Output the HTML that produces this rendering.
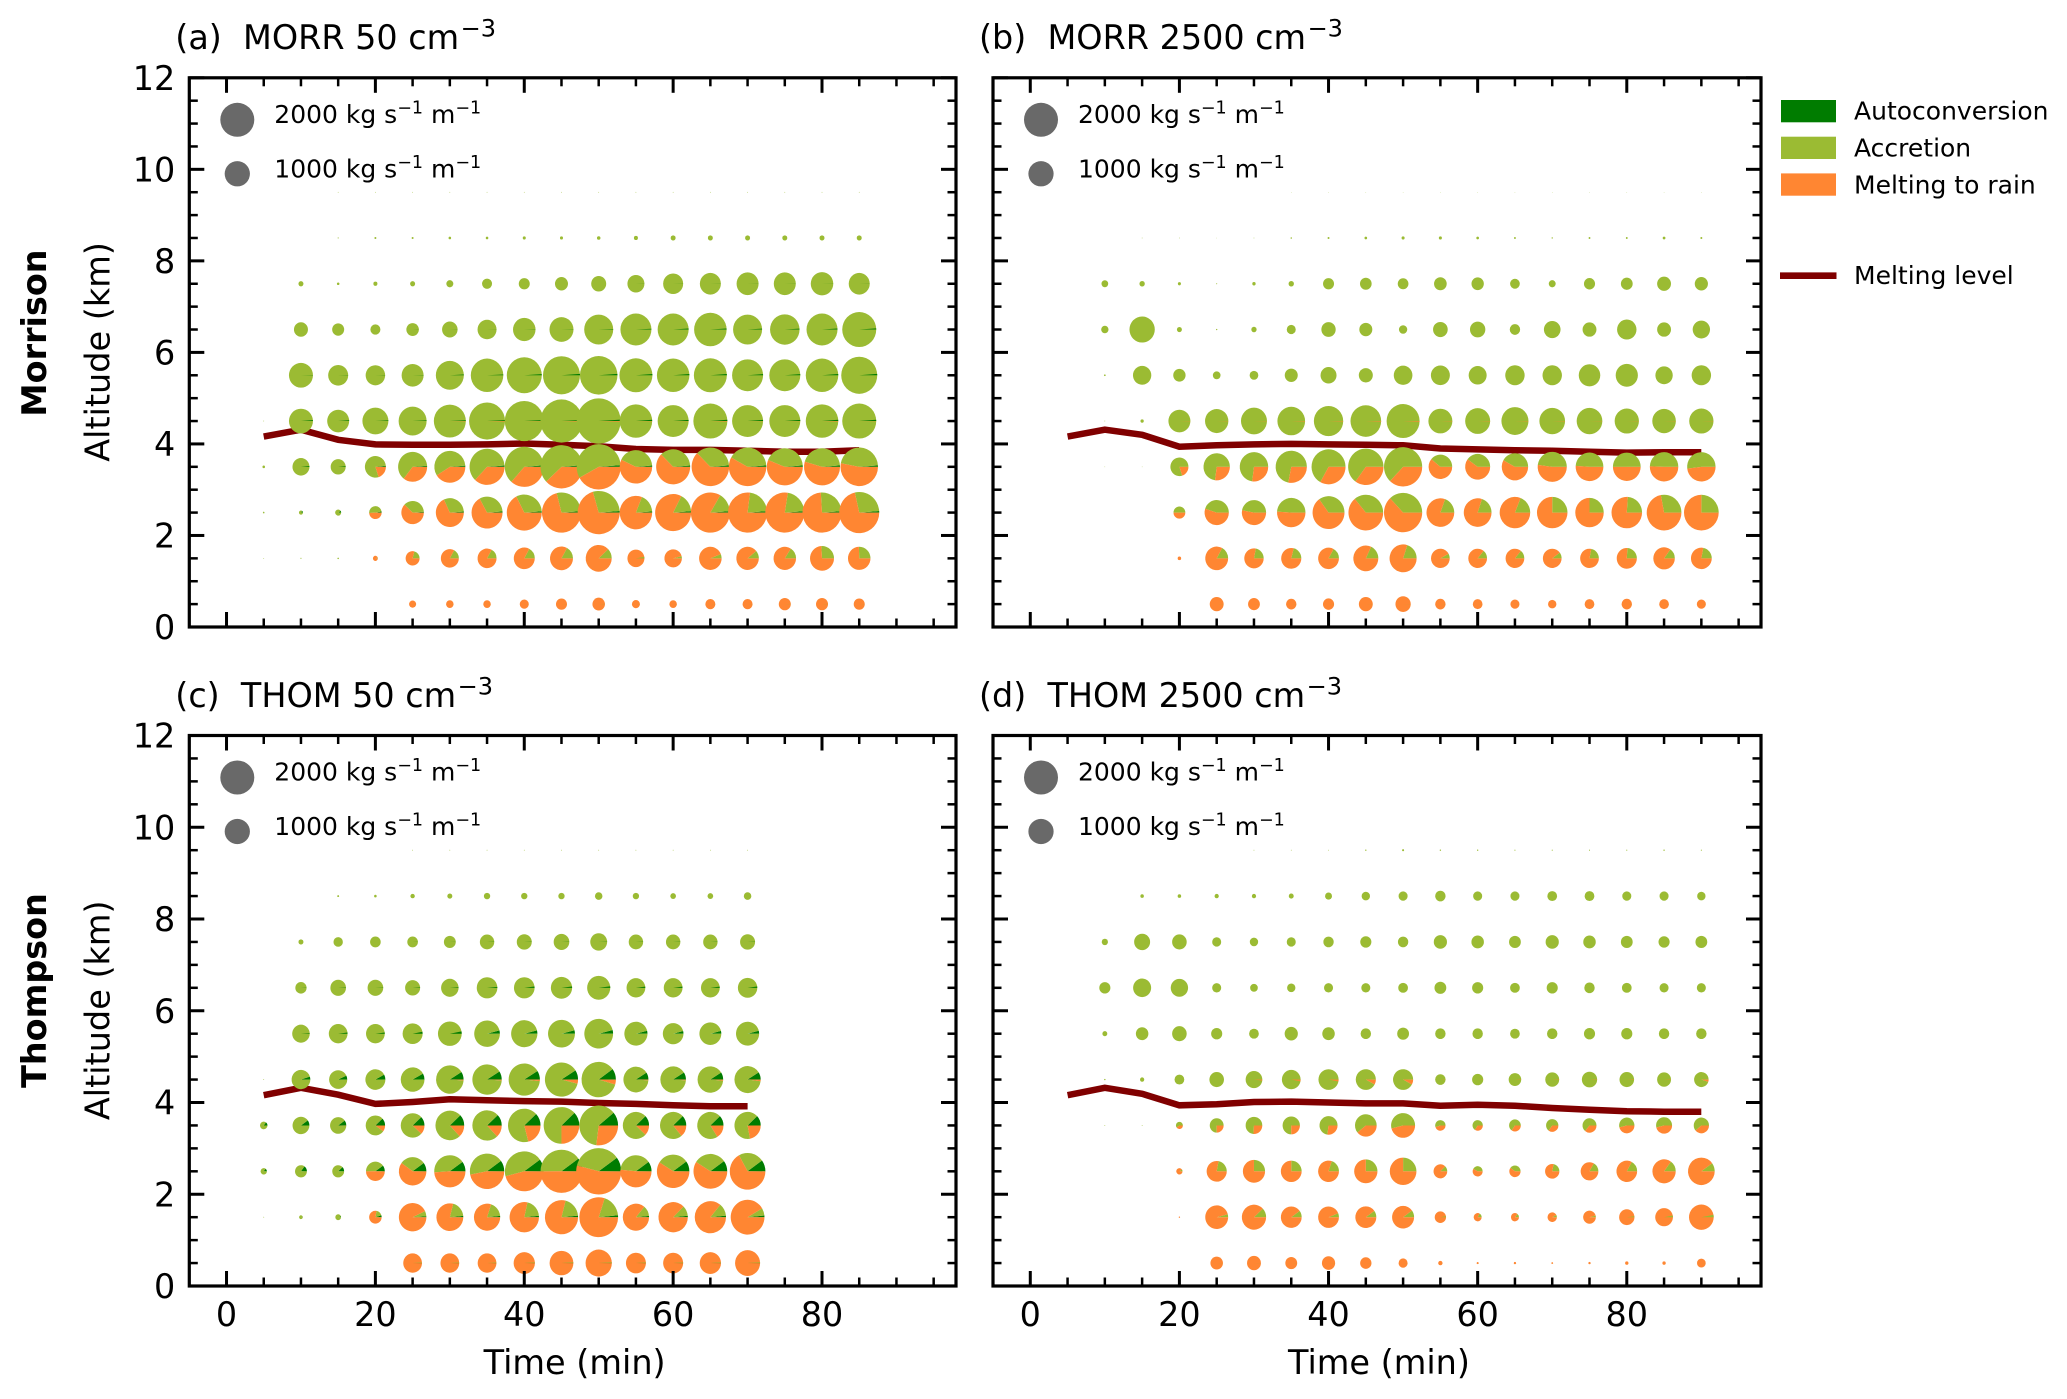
<!DOCTYPE html>
<html>
<head>
<meta charset="utf-8">
<title>Rain mass source pies</title>
<style>
html,body{margin:0;padding:0;background:#fff;}
svg{display:block;font-family:"DejaVu Sans","Liberation Sans",sans-serif;}
</style>
</head>
<body>
<svg id="chart" xmlns="http://www.w3.org/2000/svg" width="2067" height="1399" viewBox="0 0 2067 1399">
<rect width="2067" height="1399" fill="#fff"/>
<text transform="translate(46,333) rotate(-90)" text-anchor="middle" font-size="33.4" font-weight="bold">Morrison</text>
<text transform="translate(46,990.5) rotate(-90)" text-anchor="middle" font-size="33.4" font-weight="bold">Thompson</text>
<g>
<rect x="1781" y="100" width="55" height="22.3" fill="#007c00"/>
<text x="1854" y="119.5" font-size="25">Autoconversion</text>
<rect x="1781" y="136.7" width="55" height="22.3" fill="#9bbb33"/>
<text x="1854" y="156.5" font-size="25">Accretion</text>
<rect x="1781" y="173.4" width="55" height="22.3" fill="#ff8632"/>
<text x="1854" y="193.3" font-size="25">Melting to rain</text>
<line x1="1780" x2="1836.5" y1="275.7" y2="275.7" stroke="#800000" stroke-width="6.7"/>
<text x="1854" y="284" font-size="25">Melting level</text>
</g>
</svg>
<script>
const timesMin = [5,10,15,20,25,30,35,40,45,50,55,60,65,70,75,80,85,90];
const altitudesKm = [0.5,1.5,2.5,3.5,4.5,5.5,6.5,7.5,8.5,9.5];
const xTickLabels = [0,20,40,60,80];
const yTickLabels = [0,2,4,6,8,10,12];
const xMinorTicks = [5,10,15,25,30,35,45,50,55,65,70,75,85,90,95];
const yMinorTicks = [0.5,1,1.5,2.5,3,3.5,4.5,5,5.5,6.5,7,7.5,8.5,9,9.5,10.5,11,11.5];
const sizeKeyValues = [2000,1000];

/* Total rate, kg s-1 m-1; rows run from 0.5 km upward, columns from 5 min */
const morr50Rate = [
[0,0,0,0,85,97,97,140,209,270,111,97,173,173,249,249,209],
[1,2,4,43,339,561,625,763,915,1169,500,530,876,876,876,996,876],
[4,28,62,270,876,1356,1662,2119,2631,3052,1827,2242,2631,2631,2631,2631,2768],
[11,500,389,763,1455,1662,2119,2631,3052,3349,1827,2000,2433,2433,2242,2242,2433],
[1,996,837,1169,1356,1771,2242,2631,3052,3349,1827,1662,2000,1662,1662,1827,2000],
[0,996,692,658,837,1356,1827,2119,2368,2433,1884,1827,1884,1662,1662,1827,2242],
[0,339,249,173,270,416,625,876,996,1455,1662,1662,1827,1455,1506,1662,2000],
[0,43,11,28,43,85,173,209,292,389,500,692,763,837,837,876,763],
[0,0,2,7,7,11,11,16,16,21,28,43,43,43,43,43,43],
[0,0,1,1,1,1,1,1,1,1,1,1,1,1,1,1,1]
];
const morr50Melt = [
[0,0,0,0,.995,.995,.995,.995,.995,.995,.995,.995,.995,.995,.995,.995,.995],
[0,0,0,.95,.79,.83,.83,.83,.83,.88,.97,.96,.94,.89,.84,.74,.745],
[0,0,0,.49,.62,.68,.67,.675,.71,.705,.81,.825,.835,.77,.775,.74,.715],
[0,0,0,.2,.355,.41,.37,.365,.38,.42,.57,.625,.625,.58,.56,.545,.53],
[0,0,0,0,0,.003,.005,.003,.005,.005,.003,.002,.005,.002,.002,.005,.002]
];
const morr50Auto = [
[0,0,0,0,0,0,0,0,0,0,0,0,0,0,0,0,0],
[0,0,0,.01,.001,.001,.001,.001,.001,.001,.001,.001,.001,.001,.001,.001,.001],
[.1,.15,.1,.03,.012,.012,.012,.012,.012,.012,.012,.012,.012,.012,.012,.012,.012],
[0,.015,.015,.015,.012,.012,.012,.012,.012,.012,.012,.012,.012,.012,.012,.012,.012],
[0,.012,.012,.008,.008,.008,.008,.008,.008,.01,.012,.012,.012,.012,.012,.012,.012],
[0,.004,.004,.004,.004,.008,.008,.01,.012,.012,.012,.012,.012,.012,.012,.012,.012],
[0,0,0,0,.002,.002,.002,.004,.004,.006,.008,.01,.01,.01,.01,.01,.01],
[0,0,0,0,0,0,0,0,0,0,.002,.002,.002,.002,.002,.002,.002],
[0,0,0,0,0,0,0,0,0,0,0,0,0,0,0,0,0],
[0,0,0,0,0,0,0,0,0,0,0,0,0,0,0,0,0]
];
const morr50Level = [4.16,4.31,4.09,3.99,3.98,3.98,3.99,4.01,3.98,3.95,3.89,3.87,3.87,3.85,3.83,3.83,3.86];

const morr2500Rate = [
[0,0,0,0,333,241,187,213,333,403,187,163,141,120,163,187,163,141],
[0,0,0,21,907,653,701,750,1080,1267,607,607,607,607,607,701,801,750],
[0,0,0,241,1020,1020,1400,1763,2083,2520,1333,1333,1613,1613,1400,1613,2083,2083],
[0,.5,.5,563,1203,1400,1687,2000,2167,2520,963,1080,1203,1469,1333,1333,1400,1400],
[0,1,19,837,942,1169,1324,1488,1627,1884,996,1081,1267,1140,1140,1020,963,1020],
[0,5,581,263,102,130,292,443,339,603,624,560,653,653,801,853,521,653],
[0,93,1110,43,3,49,140,355,292,120,372,407,187,480,333,653,333,521],
[0,78,49,16,2,19,49,209,235,197,277,263,163,83,213,241,333,301],
[0,0,1,1,.5,1,4,7,12,16,16,12,6,3,6,6,13,7],
[0,0,0,0,0,0,.5,.5,.5,.5,.5,.5,.5,.5,.5,.5,.5,.5]
];
const morr2500Melt = [
[0,0,0,0,.998,.998,.998,.998,.998,.998,.998,.998,.998,.998,.998,.998,.998,.998],
[0,0,0,1,.83,.78,.79,.83,.82,.8,.92,.86,.86,.9,.78,.76,.85,.78],
[0,0,0,.5,.55,.53,.51,.65,.64,.63,.805,.8,.81,.75,.75,.76,.72,.75],
[0,0,0,.2,.27,.27,.28,.33,.35,.37,.61,.6,.58,.52,.51,.5,.505,.48],
[0,0,0,.002,.003,.003,.005,.005,.006,.006,.004,.004,.004,.004,.002,.002,.002,.002]
];
const morr2500Auto = [
[0,0,0,0,0,0,0,0,0,0,0,0,0,0,0,0,0,0],
[0,0,0,0,0,0,0,0,0,0,0,0,0,0,0,0,0,0],
[0,0,0,0,.001,.001,.001,.001,.001,.001,.001,.001,.001,.001,.001,.001,.001,.001],
[0,0,0,0,.001,.001,.001,.001,.001,.001,.001,.001,.001,.001,.001,.001,.001,.001],
[0,0,0,0,.001,.001,.001,.001,.001,.001,.001,.001,.001,.001,.001,.001,.001,.001],
[0,0,0,0,0,0,0,0,0,0,0,0,0,0,0,0,0,0],
[0,0,0,0,0,0,0,0,0,0,0,0,0,0,0,0,0,0],
[0,0,0,0,0,0,0,0,0,0,0,0,0,0,0,0,0,0],
[0,0,0,0,0,0,0,0,0,0,0,0,0,0,0,0,0,0],
[0,0,0,0,0,0,0,0,0,0,0,0,0,0,0,0,0,0]
];
const morr2500Level = [4.16,4.31,4.2,3.94,3.97,3.99,4,3.99,3.98,3.97,3.9,3.88,3.86,3.85,3.83,3.81,3.82,3.82];

const thom50Rate = [
[0,0,0,0,608,608,608,781,976,1192,692,692,781,1082],
[1,24,55,270,1309,1250,1192,1493,1899,2598,1192,1493,1690,1971],
[68,244,244,608,1309,1690,2045,2598,3034,3504,1690,1828,1971,2196],
[97,493,457,650,976,1430,1493,1828,2196,2598,1192,1192,1192,1192],
[1,608,568,692,976,1309,1493,1690,1899,2045,1082,1136,1136,1192],
[0,530,608,608,692,976,1136,1192,1250,1430,925,736,828,925],
[0,219,422,422,389,530,736,736,781,925,608,608,608,650],
[0,43,152,195,195,244,358,389,422,493,358,358,358,389],
[0,0,6,11,33,43,68,68,68,97,68,55,55,97],
[0,0,0,0,1,1,1,1,1,1,1,1,1,1]
];
const thom50Melt = [
[0,0,0,0,.99,.99,.99,.99,.99,.99,.99,.99,.99,.99],
[0,.02,0,.78,.93,.79,.8,.785,.79,.8,.86,.875,.86,.915],
[0,0,0,.5,.6,.49,.47,.46,.5,.54,.515,.59,.59,.67],
[0,0,.005,.1,.12,.13,.13,.21,.25,.27,.12,.14,.16,.22],
[0,0,0,0,0,.01,.01,.015,.04,.045,.01,.01,.015,.02]
];
const thom50Auto = [
[0,0,0,0,.002,.002,.002,.002,.002,.002,.002,.002,.002,.002],
[.05,.05,.05,.05,.01,.015,.015,.015,.015,.015,.015,.015,.015,.015],
[.15,.15,.12,.1,.1,.1,.1,.1,.1,.1,.1,.1,.1,.1],
[.15,.1,.1,.12,.12,.12,.12,.12,.12,.11,.12,.12,.12,.12],
[0,.05,.07,.08,.08,.09,.09,.09,.09,.1,.09,.09,.09,.09],
[0,.01,.02,.02,.03,.03,.04,.04,.04,.04,.04,.04,.04,.04],
[0,.005,.005,.005,.01,.01,.015,.02,.02,.02,.02,.02,.02,.02],
[0,0,0,0,.002,.002,.003,.003,.003,.003,.003,.003,.003,.003],
[0,0,0,0,0,0,0,0,0,0,0,0,0,0],
[0,0,0,0,0,0,0,0,0,0,0,0,0,0]
];
const thom50Level = [4.16,4.32,4.17,3.97,4.01,4.07,4.05,4.03,4.02,3.99,3.97,3.94,3.92,3.92];

const thom2500Rate = [
[0,0,0,0,270,333,241,301,221,140,32,7,9,5,9,19,19,130],
[0,0,0,3,907,1020,750,750,763,837,221,111,111,150,279,405,542,1055],
[0,0,0,67,701,853,750,750,939,1233,325,173,221,354,542,741,939,1233],
[0,1,1,83,333,480,521,563,815,996,184,184,237,262,339,405,443,405],
[0,3,30,163,367,480,607,701,701,701,187,213,270,333,403,367,333,367],
[0,41,270,367,213,163,301,270,187,241,187,187,163,187,213,213,187,187],
[0,213,563,521,141,101,120,141,141,163,241,213,163,213,187,163,141,141],
[0,67,441,367,141,120,141,187,213,187,301,270,241,301,270,241,213,241],
[0,0,21,21,30,30,41,83,120,141,187,141,141,163,163,141,141,120],
[0,0,0,0,0,1,1,1,3,7,3,3,2,2,2,2,3,2]
];
const thom2500Melt = [
[0,0,0,0,.999,.999,.999,.999,.999,.999,.999,.999,.999,.999,.999,.999,.999,.999],
[0,0,0,1,.96,.88,.9,.94,.9,.9,.97,.83,.86,.92,.96,.98,.97,.97],
[0,0,0,.9,.78,.75,.75,.8,.75,.75,.875,.58,.6,.78,.83,.83,.85,.9],
[0,0,0,.4,.25,.26,.25,.27,.39,.46,.45,.34,.345,.35,.36,.46,.46,.39],
[0,0,0,0,0,.02,.03,.03,.08,.08,.01,.01,.01,.01,.01,.01,.01,.05]
];
const thom2500Auto = [
[0,0,0,0,0,0,0,0,0,0,0,0,0,0,0,0,0,0],
[0,0,0,0,0,0,0,0,0,0,0,0,0,0,0,0,0,0],
[0,0,0,0,0,0,0,0,0,0,0,0,0,0,0,0,0,0],
[0,0,0,0,0,0,0,0,0,0,0,0,0,0,0,0,0,0],
[0,0,0,0,0,0,0,0,0,0,0,0,0,0,0,0,0,0],
[0,0,0,0,0,0,0,0,0,0,0,0,0,0,0,0,0,0],
[0,0,0,0,0,0,0,0,0,0,0,0,0,0,0,0,0,0],
[0,0,0,0,0,0,0,0,0,0,0,0,0,0,0,0,0,0],
[0,0,0,0,0,0,0,0,0,0,0,0,0,0,0,0,0,0],
[0,0,0,0,0,0,0,0,0,0,0,0,0,0,0,0,0,0]
];
const thom2500Level = [4.16,4.32,4.19,3.94,3.96,4.01,4.02,4,3.98,3.98,3.93,3.95,3.93,3.88,3.84,3.81,3.8,3.8];

const NS = 'http://www.w3.org/2000/svg';
const svg = document.getElementById('chart');
const X_MIN = -5, X_MAX = 98, Y_MAX = 12;
const COLORS = {auto:'#007c00', accr:'#9bbb33', melt:'#ff8632', level:'#800000', key:'#696969'};

function make(tag, parent, attrs) {
  const el = document.createElementNS(NS, tag);
  for (const k in attrs) el.setAttribute(k, attrs[k]);
  parent.appendChild(el);
  return el;
}
function radiusOf(rate) { return 17 * Math.sqrt(rate / 2000); }

function drawPanel(p) {
  const width = p.right - p.left, height = p.bottom - p.top;
  const xAt = t => p.left + (t - X_MIN) * width / (X_MAX - X_MIN);
  const yAt = a => p.bottom - a * height / Y_MAX;
  const g = make('g', svg, {});
  
  

  /* title */
  const title = make('text', g, {x: p.left - 14, y: p.top - 28.7, 'font-size': 33.4});
  
  
  title.innerHTML = p.title + ' cm<tspan dx="1.5" dy="-12.5" font-size="24">\u22123</tspan>';

  /* melting level line (beneath the pies) */
  const pts = p.level.map((v, i) => xAt(timesMin[i]).toFixed(1) + ',' + yAt(v).toFixed(1)).join(' ');
  const line = make('polyline', g, {points: pts, fill: 'none', stroke: COLORS.level, 'stroke-width': 6.5, 'stroke-linejoin': 'miter'});
  
  

  /* pies */
  p.rate.forEach((row, ri) => {
    row.forEach((rate, ci) => {
      if (!(rate > 0)) return;
      const cx = xAt(timesMin[ci]), cy = yAt(altitudesKm[ri]);
      const rx = radiusOf(rate), ry = rx * 1.03;
      const melt = p.melt[ri] ? p.melt[ri][ci] : 0;
      const auto = p.auto[ri][ci];
      const parts = [[auto, COLORS.auto], [Math.max(0, 1 - auto - melt), COLORS.accr], [melt, COLORS.melt]];
      const pie = make('g', g, {});
      
      
      /* a near-complete slice is painted as a whole ellipse, so tiny pies keep their arc */
      parts.forEach(part => {
        if (part[0] < 0.97) return;
        const full = make('ellipse', pie, {cx: cx, cy: cy, rx: rx, ry: ry, fill: part[1]});
        
        
      });
      let start = 0;
      parts.forEach(part => {
        const frac = part[0];
        if (frac <= 0) return;
        if (frac >= 0.97) { start += frac; return; }
        const a0 = start * 2 * Math.PI, a1 = (start + frac) * 2 * Math.PI;
        const d = 'M' + cx.toFixed(2) + ' ' + cy.toFixed(2) +
          'L' + (cx + rx * Math.cos(a0)).toFixed(3) + ' ' + (cy - ry * Math.sin(a0)).toFixed(3) +
          'A' + rx.toFixed(3) + ' ' + ry.toFixed(3) + ' 0 ' + (frac > 0.5 ? 1 : 0) + ' 0 ' +
          (cx + rx * Math.cos(a1)).toFixed(3) + ' ' + (cy - ry * Math.sin(a1)).toFixed(3) + 'Z';
        const slice = make('path', pie, {d: d, fill: part[1]});
        
        
        start += frac;
      });
    });
  });

  /* size key */
  sizeKeyValues.forEach((v, i) => {
    const cy = p.top + (i === 0 ? 42 : 96);
    const keyDot = make('circle', g, {cx: p.left + 48, cy: cy, r: radiusOf(v) + (i === 0 ? 0 : 0.6), fill: COLORS.key});
    
    
    const keyText = make('text', g, {x: p.left + 85, y: p.top + (i === 0 ? 45.2 : 99.5), 'font-size': 25});
    
    
    keyText.innerHTML = v + ' kg s<tspan dy="-9.5" font-size="17.5">\u22121</tspan><tspan dy="9.5"> m</tspan><tspan dy="-9.5" font-size="17.5">\u22121</tspan>';
  });

  /* ticks */
  const tick = (x1, y1, x2, y2, w) => {
    const t = make('line', g, {x1: x1, y1: y1, x2: x2, y2: y2, stroke: '#000', 'stroke-width': w});
    
    
  };
  xTickLabels.forEach(v => {
    const x = xAt(v);
    tick(x, p.bottom, x, p.bottom - 15, 3);
    tick(x, p.top, x, p.top + 15, 3);
    if (p.xLabels) {
      const lab = make('text', g, {x: x, y: p.bottom + 40, 'text-anchor': 'middle', 'font-size': 33.4});
      
      
      lab.textContent = v;
    }
  });
  xMinorTicks.forEach(v => {
    const x = xAt(v);
    tick(x, p.bottom, x, p.bottom - 8.5, 2.5);
    tick(x, p.top, x, p.top + 8.5, 2.5);
  });
  yTickLabels.forEach(v => {
    const y = yAt(v);
    tick(p.left, y, p.left + 15, y, 3);
    tick(p.right, y, p.right - 15, y, 3);
    if (p.yLabels) {
      const lab = make('text', g, {x: p.left - 14, y: y + 12, 'text-anchor': 'end', 'font-size': 33.4});
      
      
      lab.textContent = v;
    }
  });
  yMinorTicks.forEach(v => {
    const y = yAt(v);
    tick(p.left, y, p.left + 8.5, y, 2.5);
    tick(p.right, y, p.right - 8.5, y, 2.5);
  });

  /* frame */
  const frame = make('rect', g, {x: p.left, y: p.top, width: width, height: height, fill: 'none', stroke: '#000', 'stroke-width': 3.2});
  
  

  /* axis titles */
  if (p.yLabels) {
    const yt = make('text', g, {transform: 'translate(' + (p.left - 80) + ',' + (p.top + height / 2 - 0.5) + ') rotate(-90)', 'text-anchor': 'middle', 'font-size': 33.5});
    
    
    yt.textContent = 'Altitude (km)';
  }
  if (p.xLabels) {
    const xt = make('text', g, {x: (p.left + p.right) / 2 + 2, y: p.bottom + 88, 'text-anchor': 'middle', 'font-size': 33.5});
    
    
    xt.textContent = 'Time (min)';
  }
}

drawPanel({key:'a', title:'(a)&#160;&#160;MORR 50', left:189.3, right:956, top:77.8, bottom:627, rate:morr50Rate, melt:morr50Melt, auto:morr50Auto, level:morr50Level, xLabels:false, yLabels:true});
drawPanel({key:'b', title:'(b)&#160;&#160;MORR 2500', left:993, right:1761, top:77.8, bottom:627, rate:morr2500Rate, melt:morr2500Melt, auto:morr2500Auto, level:morr2500Level, xLabels:false, yLabels:false});
drawPanel({key:'c', title:'(c)&#160;&#160;THOM 50', left:189.3, right:956, top:735.5, bottom:1286, rate:thom50Rate, melt:thom50Melt, auto:thom50Auto, level:thom50Level, xLabels:true, yLabels:true});
drawPanel({key:'d', title:'(d)&#160;&#160;THOM 2500', left:993, right:1761, top:735.5, bottom:1286, rate:thom2500Rate, melt:thom2500Melt, auto:thom2500Auto, level:thom2500Level, xLabels:true, yLabels:false});
</script>
</body>
</html>
